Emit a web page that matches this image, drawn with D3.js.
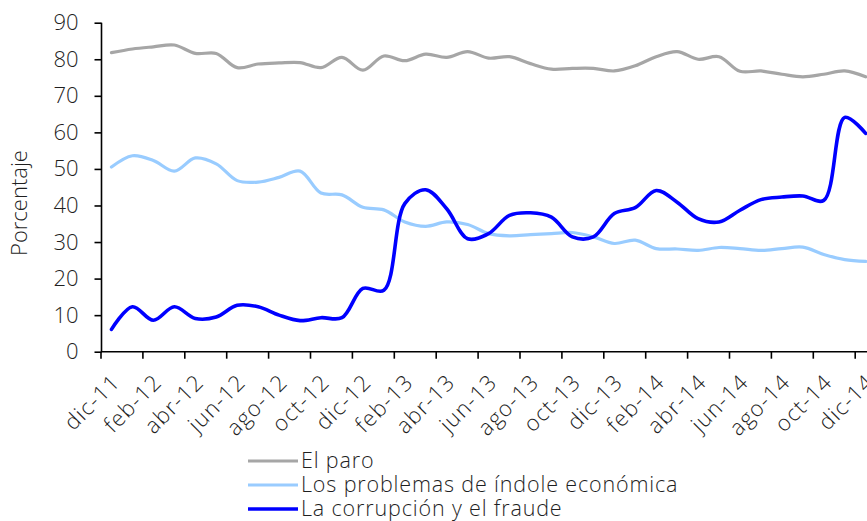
<!DOCTYPE html>
<html><head><meta charset="utf-8">
<script src="https://cdn.jsdelivr.net/npm/d3@7"></script>
<style>body{margin:0;background:#fff}svg{display:block;font-family:"Open Sans",sans-serif}</style>
</head><body><svg id="c" width="867" height="521"></svg>
<script>
const months = ["dic-11","ene-12","feb-12","mar-12","abr-12","may-12","jun-12","jul-12","ago-12","sep-12","oct-12","nov-12",
"dic-12","ene-13","feb-13","mar-13","abr-13","may-13","jun-13","jul-13","ago-13","sep-13","oct-13","nov-13",
"dic-13","ene-14","feb-14","mar-14","abr-14","may-14","jun-14","jul-14","ago-14","sep-14","oct-14","nov-14","dic-14"];
const paro = [81.8,82.8,83.4,83.9,81.6,81.6,77.7,78.7,79.0,79.1,77.7,80.5,
77.0,80.9,79.6,81.4,80.5,82.1,80.3,80.7,78.8,77.3,77.5,77.5,
76.8,78.2,80.7,82.1,80.0,80.7,76.7,76.8,75.9,75.2,75.9,76.8,75.2];
const economica = [50.5,53.6,52.3,49.4,53.0,51.4,46.8,46.4,47.7,49.4,43.4,42.9,
39.5,38.8,35.5,34.3,35.5,34.8,32.3,31.7,32.0,32.3,32.6,31.4,
29.6,30.5,28.2,28.1,27.7,28.5,28.2,27.7,28.2,28.6,26.6,25.2,24.7];
const corrupcion = [6.1,12.3,8.6,12.3,9.1,9.5,12.7,12.3,10.0,8.5,9.3,9.3,
17.3,16.8,40.5,44.3,39.1,30.9,32.3,37.3,38.0,36.8,31.4,31.4,
37.8,39.4,44.1,40.9,36.4,35.5,38.7,41.6,42.3,42.6,41.4,64.1,59.7];
const yTicks = [0,10,20,30,40,50,60,70,80,90];
const seriesNames = ["El paro","Los problemas de índole económica","La corrupción y el fraude"];
const seriesColors = ["#A6A6A6","#99CCFF","#0000FF"];

const svg = d3.select("#c");
const x0 = 101, bw = 20.95;
const x = d3.scaleBand().domain(months).range([x0, x0 + bw*months.length]).paddingInner(0).paddingOuter(0);
const y = d3.scaleLinear().domain([0,90]).range([351.7, 22.7]);
const cx = m => x(m) + x.bandwidth()/2;
const txt = "#1f1f1f";

// y axis
const ya = svg.append("g").attr("transform","translate(101.5,0)")
  .call(d3.axisLeft(y).tickValues(yTicks).tickSize(7).tickPadding(16));
ya.select(".domain").attr("stroke","#000").attr("stroke-width",1.6).attr("d","M0,22.7V351.7");
ya.selectAll(".tick line").attr("stroke","#000").attr("stroke-width",1.6);
ya.selectAll("text").attr("font-size",22).attr("fill",txt).attr("font-family","Open Sans, sans-serif").style("font-weight",300);

// x axis
const xa = svg.append("g").attr("transform","translate(0,351.7)");
xa.append("line").attr("x1",101).attr("x2",900).attr("stroke","#000").attr("stroke-width",1.6);
const tickBounds = months.filter((m,i)=>i%2===0);
xa.selectAll("line.t").data(tickBounds).join("line").attr("class","t")
  .attr("x1",d=>x(d)).attr("x2",d=>x(d)).attr("y1",0).attr("y2",7).attr("stroke","#000").attr("stroke-width",1.6);
xa.selectAll("text").data(tickBounds).join("text")
  .attr("transform",d=>`translate(${cx(d)-1},${21}) rotate(-45)`)
  .attr("text-anchor","end").attr("dy","0.7em").attr("letter-spacing",1.2)
  .attr("font-size",22).attr("fill",txt).style("font-weight",300).text(d=>d);

// y title
svg.append("text").attr("transform","translate(27,203) rotate(-90)").attr("text-anchor","middle")
  .attr("font-size",22).attr("fill",txt).style("font-weight",300).text("Porcentaje");

const line = d3.line().x((d,i)=>cx(months[i])).y(d=>y(d)).curve(d3.curveCatmullRom.alpha(0.5));
const data = [paro, economica, corrupcion];
const widths = [3.2,3.2,3.6];
data.forEach((s,k)=>{
  svg.append("path").attr("d",line(s)).attr("fill","none").attr("stroke",seriesColors[k])
    .attr("stroke-width",widths[k]).attr("stroke-linejoin","round").attr("stroke-linecap","round");
});

// legend
const lg = svg.append("g");
seriesNames.forEach((n,k)=>{
  const yy = 461 + k*24;
  lg.append("line").attr("x1",248).attr("x2",298).attr("y1",yy).attr("y2",yy)
    .attr("stroke",seriesColors[k]).attr("stroke-width",widths[k]);
  lg.append("text").attr("x",301).attr("y",yy).attr("dy","0.33em").attr("font-size",21.5)
    .attr("letter-spacing",0.85).attr("fill",txt).style("font-weight",300).text(n);
});
</script></body></html>
